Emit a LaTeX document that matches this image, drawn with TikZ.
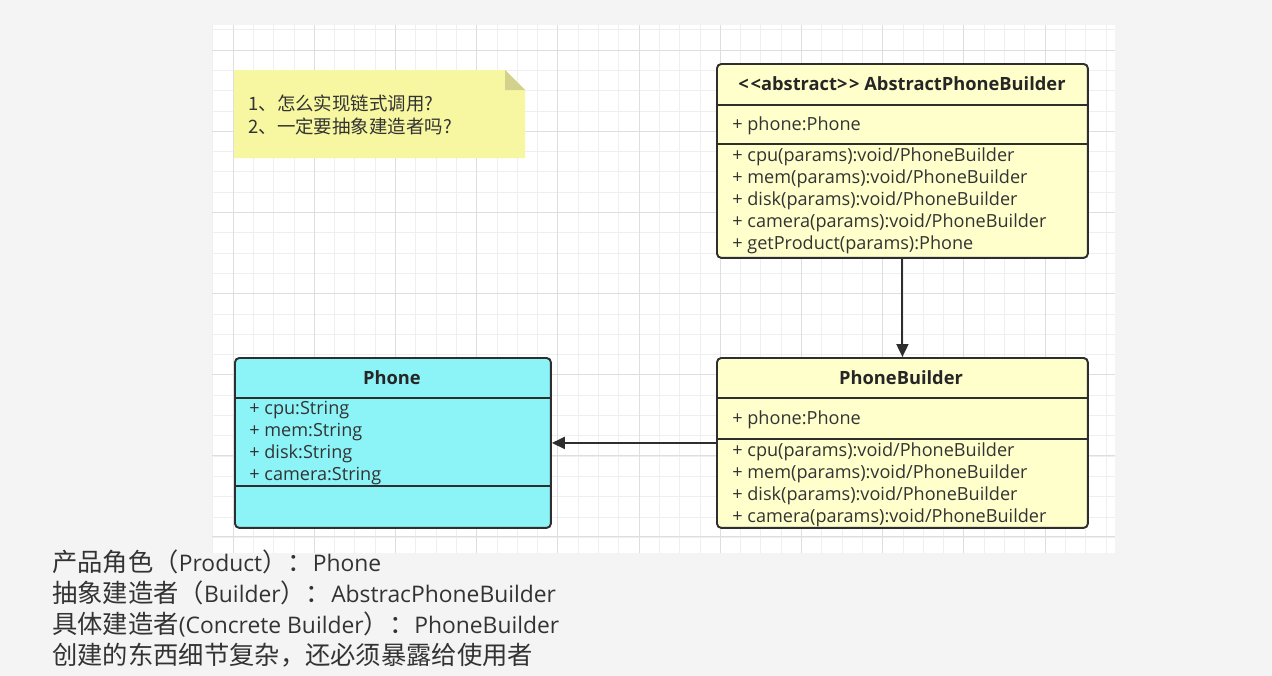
\documentclass[tikz,border=0pt]{standalone}
\usepackage{fontspec}
\setmainfont{Open Sans}
\newfontfamily\cjk{Noto Sans CJK SC}
\newcommand{\zhtext}[1]{{\cjk\fontsize{14.4}{15}\selectfont #1}}
\usetikzlibrary{arrows.meta, calc}
\definecolor{umlyellow}{HTML}{FFFFCC}
\definecolor{umlcyan}{HTML}{8CF3F7}
\definecolor{umlline}{HTML}{2E2E2E}
\definecolor{umltext}{HTML}{333333}
\definecolor{notefill}{HTML}{F7F7A1}
\definecolor{notefold}{HTML}{D2D28C}
\definecolor{gridminor}{HTML}{EFEFEF}
\definecolor{gridmajor}{HTML}{DEDEDE}
\definecolor{pagegray}{HTML}{F4F4F4}

\begin{document}
\begin{tikzpicture}[
  x=0.02cm, y=-0.02cm,
  every node/.style={font=\fontsize{10.3}{12}\selectfont, text=umltext},
  umlbox/.style={rectangle, rounded corners=2.5pt, draw=umlline, line width=1.1pt, fill=umlyellow, anchor=north west, inner sep=0pt},
  divider/.style={draw=umlline, line width=1.1pt},
  title/.style={font=\fontsize{10.4}{12}\bfseries, text=black!85},
  member/.style={anchor=west, inner sep=0pt, text height=1.6ex, text depth=0.45ex},
  assoc/.style={-{Triangle[length=0.26cm, width=0.24cm]}, draw=umlline, line width=1.1pt},
  remark/.style={anchor=base west, inner sep=0pt, font=\fontsize{13}{15}\selectfont, text=black!80},
]

\useasboundingbox[fill=pagegray] (0,0) rectangle (1272,676);

% Grid canvas
\fill[white] (212,25) rectangle (1115,553);
\foreach \gx in {0,...,44}
  \draw[gridminor, line width=0.4pt] ({212.7+20.3*\gx},25) -- ({212.7+20.3*\gx},553);
\foreach \gy in {0,...,25}
  \draw[gridminor, line width=0.4pt] (212,{29.7+20.3*\gy}) -- (1115,{29.7+20.3*\gy});
\foreach \gx in {0,...,10}
  \draw[gridmajor, line width=0.5pt] ({233+81.2*\gx},25) -- ({233+81.2*\gx},553);
\foreach \gy in {0,...,6}
  \draw[gridmajor, line width=0.5pt] (212,{50+81*\gy}) -- (1115,{50+81*\gy});

% Note
\fill[notefill] (234,70) -- (505,70) -- (525,90) -- (525,158) -- (234,158) -- cycle;
\fill[notefold] (505,70) -- (525,90) -- (505,90) -- cycle;
\node[anchor=west, inner sep=0pt, font=\cjk\fontsize{10.5}{13}\selectfont] (q1) at (248,103) {1、怎么实现链式调用?};
\node[anchor=west, inner sep=0pt, font=\cjk\fontsize{10.5}{13}\selectfont] (q2) at (248,126) {2、一定要抽象建造者吗?};

% AbstractPhoneBuilder
\node[umlbox, minimum width=7.42cm, minimum height=3.88cm] (apb) at (716,63) {};
\draw[divider] ($(apb.north west)+(0,42)$) -- ($(apb.north east)+(0,42)$);
\draw[divider] ($(apb.north west)+(0,81)$) -- ($(apb.north east)+(0,81)$);
\node[title] (apbt) at (902,84) {<\kern1pt<abstract>\kern1pt> AbstractPhoneBuilder};
\node[member] (apba) at (732,125) {+ phone:Phone};
\foreach \m [count=\k] in {cpu(params):void/PhoneBuilder, mem(params):void/PhoneBuilder, disk(params):void/PhoneBuilder, camera(params):void/PhoneBuilder, getProduct(params):Phone}
  \node[member] (apbm\k) at (732,{134+22*\k}) {+ \m};

% PhoneBuilder
\node[umlbox, minimum width=7.42cm, minimum height=3.4cm] (pb) at (716,357) {};
\draw[divider] ($(pb.north west)+(0,41)$) -- ($(pb.north east)+(0,41)$);
\draw[divider] ($(pb.north west)+(0,82)$) -- ($(pb.north east)+(0,82)$);
\node[title] (pbt) at (901,378) {PhoneBuilder};
\node[member] (pba) at (732,419) {+ phone:Phone};
\foreach \m [count=\k] in {cpu(params):void/PhoneBuilder, mem(params):void/PhoneBuilder, disk(params):void/PhoneBuilder, camera(params):void/PhoneBuilder}
  \node[member] (pbm\k) at (732,{429+22*\k}) {+ \m};

% Phone
\node[umlbox, fill=umlcyan, minimum width=6.32cm, minimum height=3.4cm] (ph) at (234,357) {};
\draw[divider] ($(ph.north west)+(0,41)$) -- ($(ph.north east)+(0,41)$);
\draw[divider] ($(ph.north west)+(0,129)$) -- ($(ph.north east)+(0,129)$);
\node[title] (pht) at (392,378) {Phone};
\foreach \m [count=\k] in {cpu:String, mem:String, disk:String, camera:String}
  \node[member] (pha\k) at (249,{387+22*\k}) {+ \m};

% Connections
\draw[assoc] (apb) -- (pb);
\draw[assoc] (pb.west) -- (ph.east);

% Remarks
\node[remark] (r1) at (52,571) {\zhtext{产品角色（}Product\zhtext{）：}Phone};
\node[remark] (r2) at (52,602) {\zhtext{抽象建造者（}Builder\zhtext{）：}AbstracPhoneBuilder};
\node[remark] (r3) at (52,633) {\zhtext{具体建造者}(Concrete Builder\zhtext{）：}PhoneBuilder};
\node[remark] (r4) at (52,664) {\zhtext{创建的东西细节复杂，还必须暴露给使用者}};

\end{tikzpicture}
\end{document}
